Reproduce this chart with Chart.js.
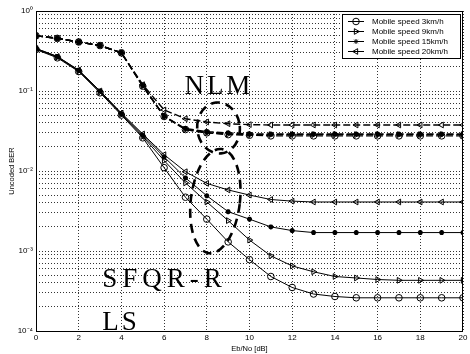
<!DOCTYPE html>
<html>
<head>
<meta charset="utf-8">
<script src="https://cdn.jsdelivr.net/npm/chart.js@4.4.0/dist/chart.umd.min.js"></script>
<style>
  html, body { margin: 0; padding: 0; background: #fff; }
  #wrap { width: 470px; height: 354px; }
</style>
</head>
<body>
<div id="wrap"><canvas id="berChart"></canvas></div>
<script>
// Eb/No axis (dB)
const ebno = [0, 1, 2, 3, 4, 5, 6, 7, 8, 9, 10, 11, 12, 13, 14, 15, 16, 17, 18, 19, 20];
const speedLabels = ['Mobile speed 3km/h', 'Mobile speed 9km/h', 'Mobile speed 15km/h', 'Mobile speed 20km/h'];

// NLM curves (dashed)
const nlm3  = [0.49, 0.455, 0.41, 0.37, 0.30, 0.115, 0.048, 0.033, 0.030, 0.0285, 0.028, 0.0275, 0.0275, 0.0275, 0.0275, 0.0275, 0.0275, 0.0275, 0.0275, 0.0275, 0.0275];
const nlm9  = [0.49, 0.455, 0.41, 0.37, 0.30, 0.115, 0.049, 0.033, 0.030, 0.029, 0.0285, 0.0285, 0.0285, 0.0285, 0.0285, 0.0285, 0.0285, 0.0285, 0.0285, 0.0285, 0.0285];
const nlm15 = [0.49, 0.455, 0.41, 0.37, 0.30, 0.117, 0.048, 0.034, 0.031, 0.030, 0.029, 0.029, 0.029, 0.029, 0.029, 0.029, 0.029, 0.029, 0.029, 0.029, 0.029];
const nlm20 = [0.49, 0.455, 0.41, 0.37, 0.30, 0.12, 0.058, 0.045, 0.041, 0.039, 0.038, 0.0376, 0.0376, 0.0376, 0.0376, 0.0376, 0.0376, 0.0376, 0.0376, 0.0376, 0.0376];

// SFQR-R curves (solid)
const sfq3  = [0.33, 0.26, 0.175, 0.095, 0.050, 0.026, 0.011, 0.0047, 0.0025, 0.0013, 0.00078, 0.00048, 0.00035, 0.00029, 0.00027, 0.00026, 0.00026, 0.00026, 0.00026, 0.00026, 0.00026];
const sfq9  = [0.335, 0.265, 0.178, 0.098, 0.051, 0.027, 0.0135, 0.0071, 0.0041, 0.0024, 0.00137, 0.00087, 0.00065, 0.00055, 0.00048, 0.00046, 0.00044, 0.00043, 0.00043, 0.00043, 0.00043];
const sfq15 = [0.34, 0.27, 0.18, 0.10, 0.052, 0.028, 0.015, 0.0082, 0.0049, 0.0031, 0.0025, 0.0020, 0.0018, 0.0017, 0.0017, 0.0017, 0.0017, 0.0017, 0.0017, 0.0017, 0.0017];
const sfq20 = [0.34, 0.27, 0.183, 0.10, 0.053, 0.029, 0.016, 0.0098, 0.0070, 0.0058, 0.0050, 0.0044, 0.0042, 0.0041, 0.0041, 0.0041, 0.0041, 0.0041, 0.0041, 0.0041, 0.0041];

// tick labels
const xTicks = [0, 2, 4, 6, 8, 10, 12, 14, 16, 18, 20];
const yDecades = [1e-4, 1e-3, 1e-2, 1e-1, 1];
const yDecadeLabels = ['10\u207B\u2074', '10\u207B\u00B3', '10\u207B\u00B2', '10\u207B\u00B9', '10\u2070'];

// marker style per speed: [pointStyle, rotation]
const markers = [['circle', 0], ['triangle', 90], ['star', 0], ['triangle', -90]];

function pts(arr) {
    return arr.map((v, i) => ({ x: ebno[i], y: v }));
}

function makeSet(label, arr, k, dashed) {
    const isStar = markers[k][0] === 'star';
    return {
        label: label,
        data: pts(arr),
        borderColor: '#000',
        backgroundColor: 'rgba(0,0,0,0)',
        borderWidth: dashed ? 1.4 : 1,
        borderDash: dashed ? [7, 3] : [],
        pointStyle: markers[k][0],
        pointRotation: markers[k][1],
        pointRadius: isStar ? 2.5 : 3.3,
        pointBorderWidth: isStar ? 1.6 : 1,
        pointBorderColor: '#000',
        pointBackgroundColor: 'rgba(0,0,0,0)',
        tension: 0
    };
}

const datasets = [
    makeSet('NLM 3', nlm3, 0, true),
    makeSet('NLM 9', nlm9, 1, true),
    makeSet('NLM 15', nlm15, 2, true),
    makeSet('NLM 20', nlm20, 3, true),
    makeSet(speedLabels[0], sfq3, 0, false),
    makeSet(speedLabels[1], sfq9, 1, false),
    makeSet(speedLabels[2], sfq15, 2, false),
    makeSet(speedLabels[3], sfq20, 3, false)
];

// y tick values: decades plus 2..9 minors
const yTickValues = [];
yDecades.forEach((d, i) => {
    yTickValues.push(d);
    if (i < yDecades.length - 1) {
        for (let m = 2; m <= 9; m++) yTickValues.push(+(d * m).toPrecision(3));
    }
});

// frame round the plot
const framePlugin = {
    id: 'frame',
    afterDraw(chart) {
        const a = chart.chartArea, ctx = chart.ctx;
        ctx.save();
        ctx.strokeStyle = '#000';
        ctx.lineWidth = 1;
        ctx.strokeRect(a.left + 0.5, a.top + 0.5, a.right - a.left - 1, a.bottom - a.top);
        ctx.restore();
    }
};

// text and ellipse annotations, placed in data coordinates
const notePlugin = {
    id: 'notes',
    afterDatasetsDraw(chart) {
        const xs = chart.scales.x, ys = chart.scales.y, ctx = chart.ctx;
        const px = v => xs.getPixelForValue(v);
        const py = v => ys.getPixelForValue(v);
        ctx.save();
        ctx.strokeStyle = '#000';
        ctx.lineWidth = 2.6;
        ctx.setLineDash([9, 6]);
        // NLM ellipse
        ctx.beginPath();
        ctx.ellipse(px(8.55), py(0.0345), px(9.55) - px(8.55), py(0.0345) - py(0.072), -0.1, 0, Math.PI * 2);
        ctx.stroke();
        // SFQR-R ellipse
        ctx.beginPath();
        ctx.ellipse(px(8.4), py(0.0042), px(9.55) - px(8.4), py(0.0042) - py(0.019), 0.12, 0, Math.PI * 2);
        ctx.stroke();
        ctx.setLineDash([]);
        ctx.fillStyle = '#000';
        ctx.font = '27px "Liberation Serif", "DejaVu Serif", serif';
        ctx.textBaseline = 'alphabetic';
        if ('letterSpacing' in ctx) ctx.letterSpacing = '3px';
        ctx.fillText('NLM', px(6.95), py(0.092));
        ctx.fillText('LS', px(3.1), py(0.000104));
        if ('letterSpacing' in ctx) ctx.letterSpacing = '5px';
        ctx.fillText('SFQR-R', px(3.1), py(0.00035));
        ctx.restore();
    }
};

// legend box in the upper right corner
const keyPlugin = {
    id: 'key',
    afterDraw(chart) {
        const a = chart.chartArea, ctx = chart.ctx;
        const w = 118, h = 44;
        const x0 = a.right - w - 3, y0 = a.top + 3;
        ctx.save();
        ctx.fillStyle = '#fff';
        ctx.fillRect(x0, y0, w, h);
        ctx.strokeStyle = '#000';
        ctx.lineWidth = 1;
        ctx.strokeRect(x0 + 0.5, y0 + 0.5, w, h);
        ctx.font = '8px "Liberation Sans", Arial, sans-serif';
        ctx.textBaseline = 'middle';
        speedLabels.forEach((lab, k) => {
            const y = y0 + 7.5 + k * 10;
            ctx.lineWidth = 1;
            ctx.beginPath();
            ctx.moveTo(x0 + 6, y);
            ctx.lineTo(x0 + 22, y);
            ctx.stroke();
            ctx.fillStyle = 'rgba(0,0,0,0)';
            Chart.helpers.drawPoint(ctx, {
                pointStyle: markers[k][0],
                rotation: markers[k][1],
                radius: markers[k][0] === 'star' ? 2.5 : 3.3,
                borderWidth: markers[k][0] === 'star' ? 1.6 : 1
            }, x0 + 14, y);
            ctx.fillStyle = '#000';
            ctx.fillText(lab, x0 + 30, y + 0.5);
        });
        ctx.restore();
    }
};

const ctx = document.getElementById('berChart').getContext('2d');
new Chart(ctx, {
    type: 'line',
    data: { datasets: datasets },
    plugins: [framePlugin, notePlugin, keyPlugin],
    options: {
        responsive: true,
        maintainAspectRatio: false,
        animation: false,
        layout: { padding: { top: 11, right: 7, left: 0, bottom: 0 } },
        plugins: {
            legend: { display: false },
            tooltip: { enabled: false }
        },
        scales: {
            x: {
                type: 'linear',
                min: 0,
                max: 20,
                afterBuildTicks: s => { s.ticks = xTicks.map(v => ({ value: v })); },
                afterFit: s => { s.height = 23; },
                grid: { color: '#000', lineWidth: 0.8, drawTicks: false },
                border: { display: false, dash: [1, 2] },
                ticks: {
                    color: '#000',
                    padding: 2,
                    font: { family: '"Liberation Sans", Arial, sans-serif', size: 8 },
                    maxRotation: 0
                },
                title: {
                    display: true,
                    text: 'Eb/No [dB]',
                    color: '#000',
                    padding: { top: 0, bottom: 1 },
                    font: { family: '"Liberation Sans", Arial, sans-serif', size: 7.5 }
                }
            },
            y: {
                type: 'logarithmic',
                min: 1e-4,
                max: 1,
                afterBuildTicks: s => { s.ticks = yTickValues.map(v => ({ value: v })); },
                afterFit: s => { s.width = 36; },
                grid: { color: '#000', lineWidth: 0.8, drawTicks: false },
                border: { display: false, dash: [1, 2] },
                ticks: {
                    color: '#000',
                    padding: 3,
                    autoSkip: false,
                    font: { family: '"Liberation Sans", Arial, sans-serif', size: 8 },
                    callback: function (value) {
                        const i = yDecades.findIndex(d => Math.abs(d - value) / d < 1e-6);
                        return i >= 0 ? yDecadeLabels[i] : '';
                    }
                },
                title: {
                    display: true,
                    text: 'Uncoded BER',
                    color: '#000',
                    padding: { top: 7, bottom: 0 },
                    font: { family: '"Liberation Sans", Arial, sans-serif', size: 7.5 }
                }
            }
        }
    }
});
</script>
</body>
</html>
